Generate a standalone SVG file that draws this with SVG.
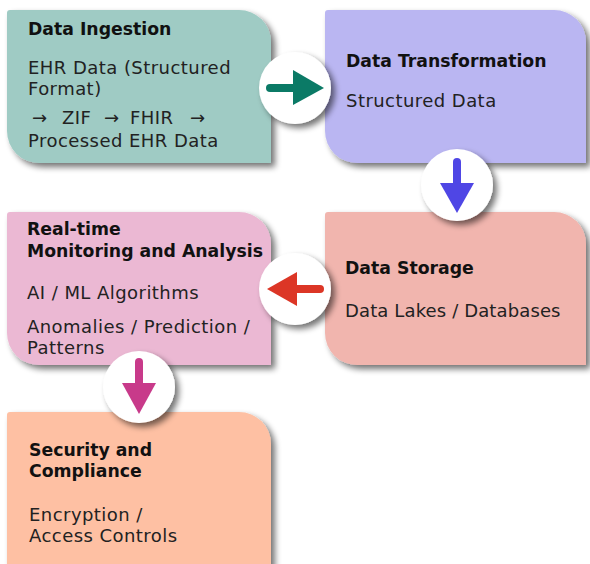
<svg xmlns="http://www.w3.org/2000/svg" width="590" height="564" viewBox="0 0 590 564">
<defs>
<filter id="sh" x="-20%" y="-20%" width="140%" height="140%">
<feGaussianBlur in="SourceAlpha" stdDeviation="3"/>
<feOffset dx="4" dy="4" result="b"/>
<feComponentTransfer><feFuncA type="linear" slope="0.55"/></feComponentTransfer>
<feMerge><feMergeNode/><feMergeNode in="SourceGraphic"/></feMerge>
</filter>
</defs>
<style>
text{font-family:"DejaVu Sans","Noto Sans",sans-serif;fill:#222;}
.t{font-weight:bold;font-size:17.3px;fill:#111;}
.b{font-size:18px;letter-spacing:0.45px;}
.c{fill:#fff;}
</style>
<rect width="590" height="564" fill="#fff"/>
<g id="node-ingestion">
<path filter="url(#sh)" fill="#9fcbc4" d="M10,10 H239 A32,32 0 0 1 271,42 V163 H39 A32,32 0 0 1 7,131 V13 A3,3 0 0 1 10,10 Z"/>
<text class="t" x="28" y="35">Data Ingestion</text>
<text class="b" x="28" y="74">EHR Data (Structured</text>
<text class="b" x="28" y="95">Format)</text>
<text class="b" y="124"><tspan x="32">→</tspan><tspan x="62">ZIF</tspan><tspan x="104">→</tspan><tspan x="130">FHIR</tspan><tspan x="190">→</tspan></text>
<text class="b" x="28" y="147">Processed EHR Data</text>
</g>
<g id="node-transformation">
<path filter="url(#sh)" fill="#bab6f2" d="M328,10 H554 A32,32 0 0 1 586,42 V163 H357 A32,32 0 0 1 325,131 V13 A3,3 0 0 1 328,10 Z"/>
<text class="t" x="346" y="67">Data Transformation</text>
<text class="b" x="346" y="107">Structured Data</text>
</g>
<g id="node-monitoring">
<path filter="url(#sh)" fill="#ebb8d3" d="M10,212 H239 A32,32 0 0 1 271,244 V365 H39 A32,32 0 0 1 7,333 V215 A3,3 0 0 1 10,212 Z"/>
<text class="t" x="27" y="235">Real-time</text>
<text class="t" x="27" y="257">Monitoring and Analysis</text>
<text class="b" x="27" y="299">AI / ML Algorithms</text>
<text class="b" x="27" y="333">Anomalies / Prediction /</text>
<text class="b" x="27" y="354">Patterns</text>
</g>
<g id="node-storage">
<path filter="url(#sh)" fill="#f1b5ae" d="M328,212 H554 A32,32 0 0 1 586,244 V365 H357 A32,32 0 0 1 325,333 V215 A3,3 0 0 1 328,212 Z"/>
<text class="t" x="345" y="274">Data Storage</text>
<text class="b" x="345" y="317" style="letter-spacing:0.13px">Data Lakes / Databases</text>
</g>
<g id="node-security">
<path filter="url(#sh)" fill="#fec0a3" d="M10,412 H239 A32,32 0 0 1 271,444 V590 H7 V415 A3,3 0 0 1 10,412 Z"/>
<text class="t" x="29" y="456">Security and</text>
<text class="t" x="29" y="477">Compliance</text>
<text class="b" x="29" y="521">Encryption /</text>
<text class="b" x="29" y="542">Access Controls</text>
</g>
<g id="connectors">
<circle class="c" filter="url(#sh)" cx="295" cy="88" r="36"/>
<line x1="270" y1="88" x2="296" y2="88" stroke="#0b7a66" stroke-width="8" stroke-linecap="round"/>
<path fill="#0b7a66" d="M293,70 L324,88 L293,105 Z"/>
<circle class="c" filter="url(#sh)" cx="457" cy="185" r="36"/>
<line x1="457" y1="162" x2="457" y2="186" stroke="#4f46e5" stroke-width="8" stroke-linecap="round"/>
<path fill="#4f46e5" d="M440,183 L474,183 L457,213 Z"/>
<circle class="c" filter="url(#sh)" cx="295" cy="289" r="36"/>
<line x1="320" y1="289" x2="294" y2="289" stroke="#dc3626" stroke-width="8" stroke-linecap="round"/>
<path fill="#dc3626" d="M297,272 L267,289 L297,306 Z"/>
<circle class="c" filter="url(#sh)" cx="139" cy="387" r="36"/>
<line x1="139" y1="362" x2="139" y2="386" stroke="#c83a8a" stroke-width="8" stroke-linecap="round"/>
<path fill="#c83a8a" d="M122,383 L156,383 L139,414 Z"/>
</g>
</svg>
